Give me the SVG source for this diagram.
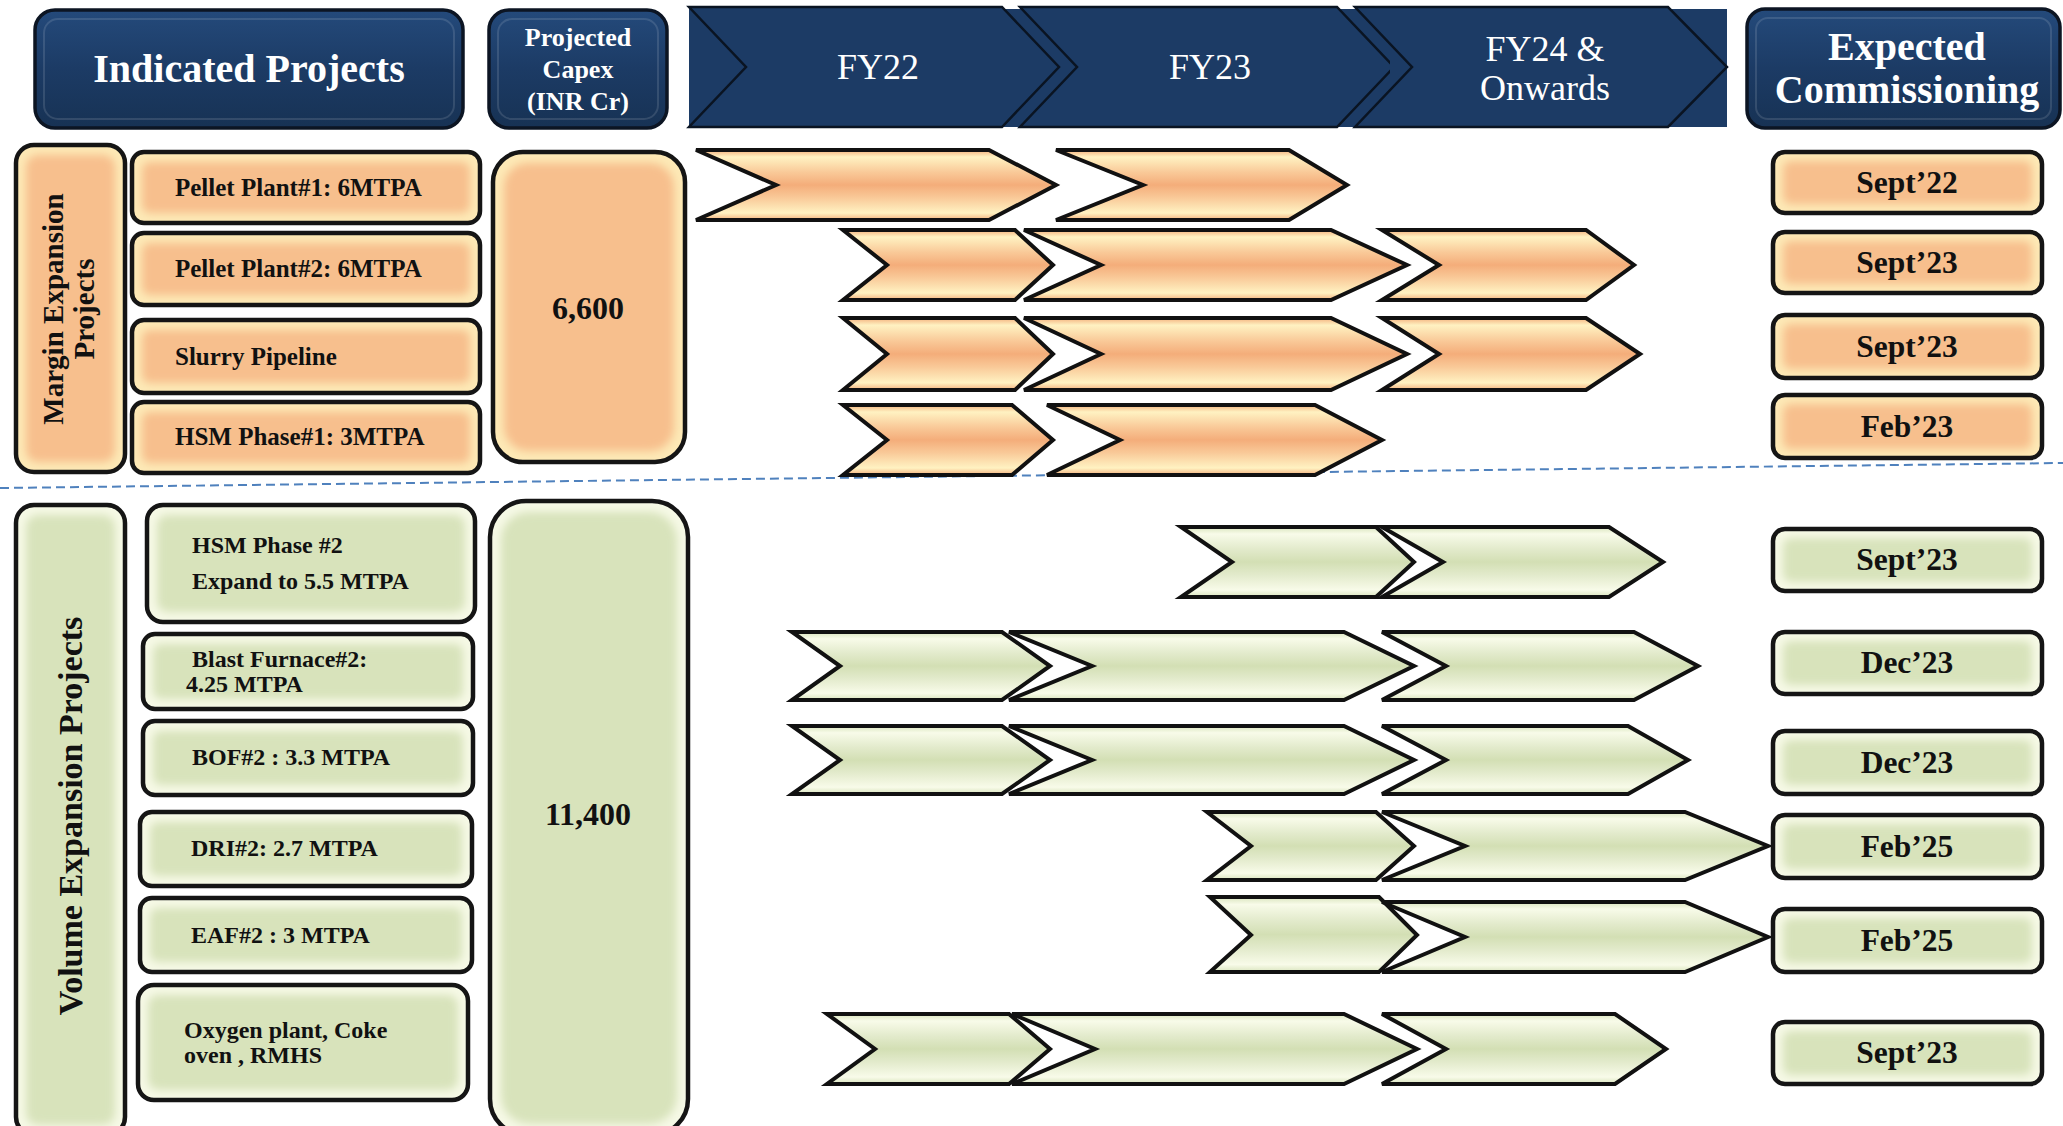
<svg xmlns="http://www.w3.org/2000/svg" width="2063" height="1126" viewBox="0 0 2063 1126">
<defs>
<linearGradient id="navy" x1="0" y1="0" x2="0" y2="1">
<stop offset="0" stop-color="#244a7b"/><stop offset="0.5" stop-color="#1c3b65"/><stop offset="1" stop-color="#173254"/>
</linearGradient>
<linearGradient id="og" x1="0" y1="0" x2="0" y2="1">
<stop offset="0" stop-color="#f3b07c"/><stop offset="0.1" stop-color="#fff2c2"/><stop offset="0.32" stop-color="#f9c998"/><stop offset="0.5" stop-color="#f4ad7a"/><stop offset="0.68" stop-color="#f9c998"/><stop offset="0.9" stop-color="#fff2c2"/><stop offset="1" stop-color="#f3b07c"/>
</linearGradient>
<linearGradient id="gg" x1="0" y1="0" x2="0" y2="1">
<stop offset="0" stop-color="#d9e4bd"/><stop offset="0.1" stop-color="#f8fbe9"/><stop offset="0.32" stop-color="#e2eacb"/><stop offset="0.5" stop-color="#d3dfb4"/><stop offset="0.68" stop-color="#e2eacb"/><stop offset="0.9" stop-color="#f8fbe9"/><stop offset="1" stop-color="#d9e4bd"/>
</linearGradient>
<filter id="bl" x="-10%" y="-20%" width="120%" height="140%"><feGaussianBlur stdDeviation="4"/></filter>
<style>
.hb{fill:url(#navy);stroke:#0c1523;stroke-width:3.5}
.hi{fill:none;stroke:#ffffff;stroke-opacity:0.12;stroke-width:2}
.ch{fill:#1c3b65;stroke:#0a1422;stroke-width:2.5;stroke-linejoin:miter}
.ht{font-family:"Liberation Serif",serif;font-weight:bold;fill:#ffffff;text-anchor:middle}
.ft{font-family:"Liberation Serif",serif;fill:#ffffff;text-anchor:middle;font-size:36px}
.oo{fill:#fde9b6}
.oi{fill:#f7bf8d;filter:url(#bl)}
.go{fill:#f6f9e6}
.gi{fill:#d8e3bb;filter:url(#bl)}
.bk{fill:none;stroke:#151515;stroke-width:4.5}
.it{font-family:"Liberation Serif",serif;font-weight:bold;fill:#111111;font-size:25px}
.lt{font-family:"Liberation Serif",serif;font-weight:bold;fill:#111111;font-size:24px}
.dt{font-family:"Liberation Serif",serif;font-weight:bold;fill:#111111;font-size:31.5px;text-anchor:middle}
.nt{font-family:"Liberation Serif",serif;font-weight:bold;fill:#111111;font-size:32px;text-anchor:middle}
.vt{font-family:"Liberation Serif",serif;font-weight:bold;fill:#111111;text-anchor:middle}
.oc{fill:url(#og);stroke:#111111;stroke-width:4;stroke-linejoin:miter}
.gc{fill:url(#gg);stroke:#111111;stroke-width:4;stroke-linejoin:miter}
</style>
</defs>
<rect width="2063" height="1126" fill="#ffffff"/>

<!-- Header -->
<g id="hdr-indicated">
<rect class="hb" x="35" y="10" width="428" height="118" rx="20"/>
<rect class="hi" x="44" y="19" width="410" height="100" rx="14"/>
<text class="ht" x="249" y="82" font-size="40">Indicated Projects</text>
</g>
<g id="hdr-capex">
<rect class="hb" x="489" y="10" width="178" height="118" rx="20"/>
<rect class="hi" x="498" y="19" width="160" height="100" rx="14"/>
<text class="ht" x="578" y="46" font-size="26">Projected</text>
<text class="ht" x="578" y="78" font-size="26">Capex</text>
<text class="ht" x="578" y="110" font-size="26">(INR Cr)</text>
</g>
<g id="hdr-years">
<rect x="689" y="9" width="1038" height="118" fill="#1c3b65"/>
<polygon class="ch" points="689,7 1002,7 1059,67 1002,127 689,127 746,67"/>
<polygon class="ch" points="1020,7 1337,7 1394,67 1337,127 1020,127 1077,67"/>
<rect x="1390" y="9" width="337" height="118" fill="#1c3b65"/>
<polygon class="ch" points="1355,7 1668,7 1727,67 1668,127 1355,127 1412,67"/>
<text class="ft" x="878" y="79">FY22</text>
<text class="ft" x="1210" y="79">FY23</text>
<text class="ft" x="1545" y="61">FY24 &amp;</text>
<text class="ft" x="1545" y="100">Onwards</text>
</g>
<g id="hdr-commissioning">
<rect class="hb" x="1747" y="9" width="313" height="119" rx="18"/>
<rect class="hi" x="1756" y="18" width="295" height="101" rx="12"/>
<text class="ht" x="1907" y="60" font-size="40">Expected</text>
<text class="ht" x="1907" y="103" font-size="40">Commissioning</text>
</g>

<!-- Margin expansion section -->
<g id="margin-label">
<rect class="oo" x="16" y="145" width="109" height="327" rx="18"/>
<rect class="oi" x="26" y="155" width="89" height="307" rx="12"/>
<rect class="bk" x="16" y="145" width="109" height="327" rx="18"/>
<text class="vt" font-size="29" transform="translate(63,309) rotate(-90)">Margin Expansion</text>
<text class="vt" font-size="29" transform="translate(94,309) rotate(-90)">Projects</text>
</g>
<g id="pellet1">
<rect class="oo" x="132" y="152" width="348" height="71" rx="12"/>
<rect class="oi" x="142" y="162" width="328" height="51" rx="8"/>
<rect class="bk" x="132" y="152" width="348" height="71" rx="12"/>
<text class="it" x="175" y="196">Pellet Plant#1: 6MTPA</text>
</g>
<g id="pellet2">
<rect class="oo" x="132" y="233" width="348" height="72" rx="12"/>
<rect class="oi" x="142" y="243" width="328" height="52" rx="8"/>
<rect class="bk" x="132" y="233" width="348" height="72" rx="12"/>
<text class="it" x="175" y="277">Pellet Plant#2: 6MTPA</text>
</g>
<g id="slurry">
<rect class="oo" x="132" y="320" width="348" height="73" rx="12"/>
<rect class="oi" x="142" y="330" width="328" height="53" rx="8"/>
<rect class="bk" x="132" y="320" width="348" height="73" rx="12"/>
<text class="it" x="175" y="365">Slurry Pipeline</text>
</g>
<g id="hsm1">
<rect class="oo" x="132" y="402" width="348" height="71" rx="12"/>
<rect class="oi" x="142" y="412" width="328" height="51" rx="8"/>
<rect class="bk" x="132" y="402" width="348" height="71" rx="12"/>
<text class="it" x="175" y="445">HSM Phase#1: 3MTPA</text>
</g>
<g id="capex-margin">
<rect class="oo" x="493" y="152" width="192" height="310" rx="30"/>
<rect class="oi" x="504" y="163" width="170" height="288" rx="24"/>
<rect class="bk" x="493" y="152" width="192" height="310" rx="30"/>
<text class="nt" x="588" y="319">6,600</text>
</g>

<!-- Volume expansion section -->
<g id="volume-label">
<rect class="go" x="16" y="505" width="109" height="630" rx="18"/>
<rect class="gi" x="26" y="515" width="89" height="610" rx="12"/>
<rect class="bk" x="16" y="505" width="109" height="630" rx="18"/>
<text class="vt" font-size="34" transform="translate(82,816) rotate(-90)">Volume Expansion Projects</text>
</g>
<g id="hsm2">
<rect class="go" x="147" y="505" width="328" height="117" rx="16"/>
<rect class="gi" x="157" y="515" width="308" height="97" rx="10"/>
<rect class="bk" x="147" y="505" width="328" height="117" rx="16"/>
<text class="lt" x="192" y="553">HSM Phase #2</text>
<text class="lt" x="192" y="589">Expand to 5.5 MTPA</text>
</g>
<g id="bf2">
<rect class="go" x="143" y="634" width="330" height="75" rx="12"/>
<rect class="gi" x="153" y="644" width="310" height="55" rx="8"/>
<rect class="bk" x="143" y="634" width="330" height="75" rx="12"/>
<text class="lt" x="192" y="667">Blast Furnace#2:</text>
<text class="lt" x="186" y="692">4.25 MTPA</text>
</g>
<g id="bof2">
<rect class="go" x="143" y="721" width="330" height="74" rx="12"/>
<rect class="gi" x="153" y="731" width="310" height="54" rx="8"/>
<rect class="bk" x="143" y="721" width="330" height="74" rx="12"/>
<text class="lt" x="192" y="765">BOF#2 : 3.3 MTPA</text>
</g>
<g id="dri2">
<rect class="go" x="140" y="812" width="332" height="74" rx="12"/>
<rect class="gi" x="150" y="822" width="312" height="54" rx="8"/>
<rect class="bk" x="140" y="812" width="332" height="74" rx="12"/>
<text class="lt" x="191" y="856">DRI#2: 2.7 MTPA</text>
</g>
<g id="eaf2">
<rect class="go" x="140" y="898" width="332" height="74" rx="12"/>
<rect class="gi" x="150" y="908" width="312" height="54" rx="8"/>
<rect class="bk" x="140" y="898" width="332" height="74" rx="12"/>
<text class="lt" x="191" y="943">EAF#2 : 3 MTPA</text>
</g>
<g id="oxygen">
<rect class="go" x="138" y="985" width="330" height="115" rx="16"/>
<rect class="gi" x="148" y="995" width="310" height="95" rx="10"/>
<rect class="bk" x="138" y="985" width="330" height="115" rx="16"/>
<text class="lt" x="184" y="1038">Oxygen plant, Coke</text>
<text class="lt" x="184" y="1063">oven , RMHS</text>
</g>
<g id="capex-volume">
<rect class="go" x="490" y="501" width="198" height="634" rx="36"/>
<rect class="gi" x="501" y="512" width="176" height="612" rx="28"/>
<rect class="bk" x="490" y="501" width="198" height="634" rx="36"/>
<text class="nt" x="588" y="825">11,400</text>
</g>

<!-- Separator -->
<line x1="0" y1="488" x2="2063" y2="463" stroke="#4f81bd" stroke-width="2" stroke-dasharray="9 5"/>

<!-- Timeline bars -->
<g id="timeline">
<g id="bars-margin">
<polygon class="oc" points="696,150 989,150 1056,185 989,220 696,220 776,185"/>
<polygon class="oc" points="1056,150 1289,150 1347,185 1289,220 1056,220 1143,185"/>
<polygon class="oc" points="843,230 1015,230 1053,265 1015,300 843,300 887,265"/>
<polygon class="oc" points="1024,230 1331,230 1407,265 1331,300 1024,300 1101,265"/>
<polygon class="oc" points="1382,230 1586,230 1634,265 1586,300 1382,300 1439,265"/>
<polygon class="oc" points="843,318 1015,318 1053,354 1015,390 843,390 887,354"/>
<polygon class="oc" points="1024,318 1331,318 1407,354 1331,390 1024,390 1101,354"/>
<polygon class="oc" points="1382,318 1586,318 1640,354 1586,390 1382,390 1439,354"/>
<polygon class="oc" points="843,405 1012,405 1053,440 1012,475 843,475 887,440"/>
<polygon class="oc" points="1047,405 1315,405 1382,440 1315,475 1047,475 1120,440"/>
</g>
<g id="bars-volume">
<polygon class="gc" points="1181,527 1376,527 1414,562 1376,597 1181,597 1232,562"/>
<polygon class="gc" points="1382,527 1609,527 1663,562 1609,597 1382,597 1443,562"/>
<polygon class="gc" points="792,632 1002,632 1050,666 1002,700 792,700 840,666"/>
<polygon class="gc" points="1009,632 1344,632 1414,666 1344,700 1009,700 1092,666"/>
<polygon class="gc" points="1382,632 1634,632 1698,666 1634,700 1382,700 1446,666"/>
<polygon class="gc" points="792,726 1002,726 1050,760 1002,794 792,794 840,760"/>
<polygon class="gc" points="1009,726 1344,726 1414,760 1344,794 1009,794 1092,760"/>
<polygon class="gc" points="1382,726 1628,726 1688,760 1628,794 1382,794 1446,760"/>
<polygon class="gc" points="1207,812 1376,812 1414,846 1376,880 1207,880 1251,846"/>
<polygon class="gc" points="1382,812 1685,812 1768,846 1685,880 1382,880 1465,846"/>
<polygon class="gc" points="1210,897 1379,897 1417,935 1379,972 1210,972 1251,935"/>
<polygon class="gc" points="1382,902 1685,902 1768,937 1685,972 1382,972 1465,937"/>
<polygon class="gc" points="827,1014 1009,1014 1050,1049 1009,1084 827,1084 875,1049"/>
<polygon class="gc" points="1012,1014 1344,1014 1417,1049 1344,1084 1012,1084 1095,1049"/>
<polygon class="gc" points="1382,1014 1615,1014 1666,1049 1615,1084 1382,1084 1446,1049"/>
</g>
</g>

<!-- Commissioning dates -->
<g id="date-pellet1">
<rect class="oo" x="1773" y="152" width="269" height="61" rx="12"/>
<rect class="oi" x="1783" y="161" width="249" height="43" rx="8"/>
<rect class="bk" x="1773" y="152" width="269" height="61" rx="12"/>
<text class="dt" x="1907" y="193">Sept’22</text>
</g>
<g id="date-pellet2">
<rect class="oo" x="1773" y="232" width="269" height="61" rx="12"/>
<rect class="oi" x="1783" y="241" width="249" height="43" rx="8"/>
<rect class="bk" x="1773" y="232" width="269" height="61" rx="12"/>
<text class="dt" x="1907" y="273">Sept’23</text>
</g>
<g id="date-slurry">
<rect class="oo" x="1773" y="315" width="269" height="63" rx="12"/>
<rect class="oi" x="1783" y="324" width="249" height="45" rx="8"/>
<rect class="bk" x="1773" y="315" width="269" height="63" rx="12"/>
<text class="dt" x="1907" y="357">Sept’23</text>
</g>
<g id="date-hsm1">
<rect class="oo" x="1773" y="395" width="269" height="63" rx="12"/>
<rect class="oi" x="1783" y="404" width="249" height="45" rx="8"/>
<rect class="bk" x="1773" y="395" width="269" height="63" rx="12"/>
<text class="dt" x="1907" y="437">Feb’23</text>
</g>
<g id="date-hsm2">
<rect class="go" x="1773" y="529" width="269" height="62" rx="12"/>
<rect class="gi" x="1783" y="538" width="249" height="44" rx="8"/>
<rect class="bk" x="1773" y="529" width="269" height="62" rx="12"/>
<text class="dt" x="1907" y="570">Sept’23</text>
</g>
<g id="date-bf2">
<rect class="go" x="1773" y="632" width="269" height="62" rx="12"/>
<rect class="gi" x="1783" y="641" width="249" height="44" rx="8"/>
<rect class="bk" x="1773" y="632" width="269" height="62" rx="12"/>
<text class="dt" x="1907" y="673">Dec’23</text>
</g>
<g id="date-bof2">
<rect class="go" x="1773" y="731" width="269" height="63" rx="12"/>
<rect class="gi" x="1783" y="740" width="249" height="45" rx="8"/>
<rect class="bk" x="1773" y="731" width="269" height="63" rx="12"/>
<text class="dt" x="1907" y="773">Dec’23</text>
</g>
<g id="date-dri2">
<rect class="go" x="1773" y="815" width="269" height="63" rx="12"/>
<rect class="gi" x="1783" y="824" width="249" height="45" rx="8"/>
<rect class="bk" x="1773" y="815" width="269" height="63" rx="12"/>
<text class="dt" x="1907" y="857">Feb’25</text>
</g>
<g id="date-eaf2">
<rect class="go" x="1773" y="909" width="269" height="63" rx="12"/>
<rect class="gi" x="1783" y="918" width="249" height="45" rx="8"/>
<rect class="bk" x="1773" y="909" width="269" height="63" rx="12"/>
<text class="dt" x="1907" y="951">Feb’25</text>
</g>
<g id="date-oxygen">
<rect class="go" x="1773" y="1022" width="269" height="62" rx="12"/>
<rect class="gi" x="1783" y="1031" width="249" height="44" rx="8"/>
<rect class="bk" x="1773" y="1022" width="269" height="62" rx="12"/>
<text class="dt" x="1907" y="1063">Sept’23</text>
</g>
</svg>
